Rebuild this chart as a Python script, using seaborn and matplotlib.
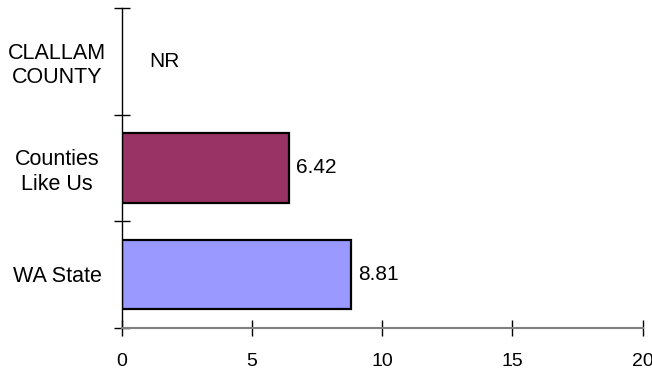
import numpy as np
import pandas as pd
import seaborn as sns
import matplotlib.pyplot as plt

# data
categories = ['CLALLAM\nCOUNTY', 'Counties\nLike Us', 'WA State']
values = [np.nan, 6.42, 8.81]
value_labels = ['NR', '6.42', '8.81']
bar_colors = ['#FFFFFF', '#993366', '#9999FF']
x_ticks = [0, 5, 10, 15, 20]

df = pd.DataFrame({'group': categories, 'value': values})

sns.set_style('white')
plt.rcParams['font.family'] = ['Liberation Sans', 'DejaVu Sans']
plt.rcParams['text.color'] = 'black'
plt.rcParams['xtick.color'] = 'black'
plt.rcParams['ytick.color'] = 'black'

fig = plt.figure(figsize=(6.52, 3.70), dpi=100)
ax = fig.add_axes([0.1867, 0.1143, 0.799, 0.8633])

sns.barplot(data=df, x='value', y='group', hue='group', palette=bar_colors,
            orient='h', width=0.656, edgecolor='black', linewidth=1.6,
            saturation=1, legend=False, ax=ax)

# value labels next to each bar
for i, (v, lab) in enumerate(zip(values, value_labels)):
    if np.isnan(v):
        ax.annotate(lab, xy=(0, i), xytext=(28, 0), textcoords='offset pixels',
                    va='center', ha='left', fontsize=15)
    else:
        ax.annotate(lab, xy=(v, i), xytext=(7, 0), textcoords='offset pixels',
                    va='center', ha='left', fontsize=15)

ax.set_xlim(0, 20)
ax.set_ylim(2.5, -0.5)
ax.set_xticks(x_ticks)
ax.set_xticklabels([str(t) for t in x_ticks], fontsize=14)

# category labels on minor ticks, major ticks on the band boundaries
ax.set_yticks([-0.5, 0.5, 1.5, 2.5])
ax.set_yticklabels([])
ax.set_yticks([0, 1, 2], minor=True)
ax.set_yticklabels(categories, minor=True, fontsize=15.5, ha='center')
ax.tick_params(axis='y', which='minor', length=0, pad=46.5)
ax.tick_params(axis='y', which='major', direction='inout', length=12,
               width=1, left=True)
ax.tick_params(axis='x', direction='inout', length=12, width=1,
               bottom=True, pad=12)

ax.set_xlabel('')
ax.set_ylabel('')
for s in ['top', 'right']:
    ax.spines[s].set_visible(False)
ax.spines['left'].set_color('black')
ax.spines['left'].set_linewidth(1)
ax.spines['bottom'].set_color('#808080')
ax.spines['bottom'].set_linewidth(1.5)

fig.savefig('out.png', dpi=100)
